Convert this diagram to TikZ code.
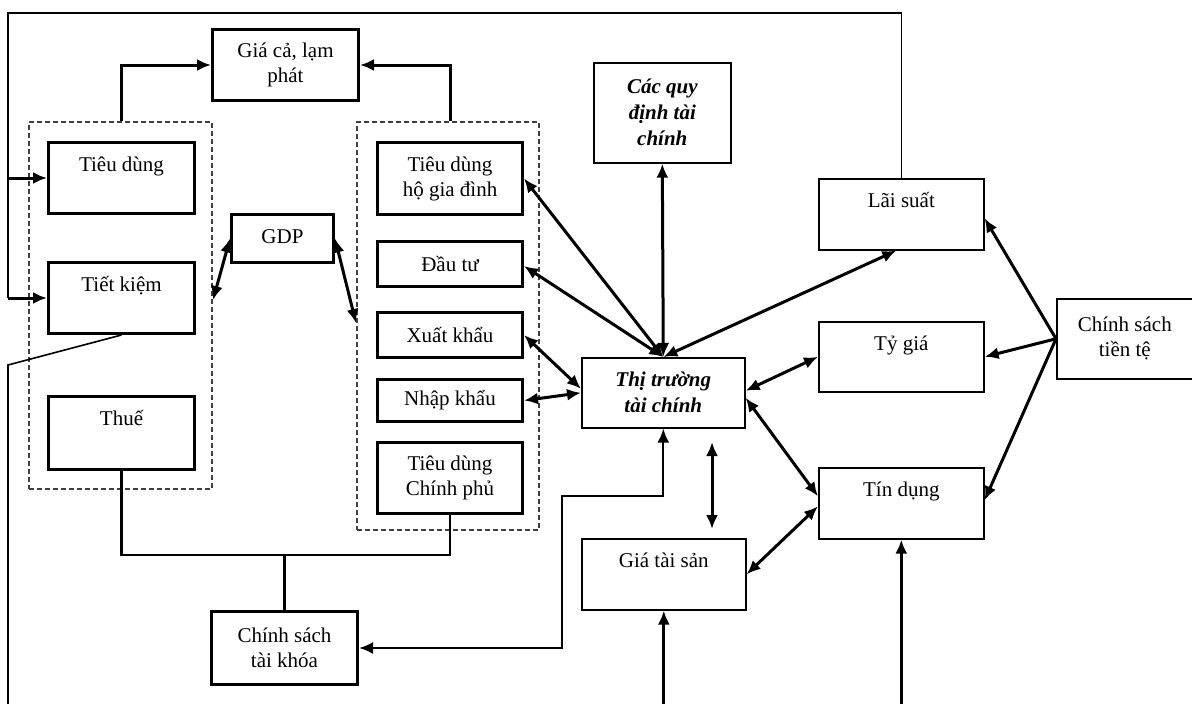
\documentclass[tikz,border=0pt]{standalone}
\usepackage{fontspec}
\setmainfont{Liberation Serif}
\usetikzlibrary{arrows.meta,calc}
\tikzset{
  every node/.style={font=\fontsize{21}{25}\selectfont},
  thickbox/.style={draw, line width=3pt, inner sep=0pt, anchor=north west, align=center},
  thinbox/.style={draw, line width=1.6pt, inner sep=0pt, anchor=north west, align=center},
  toptxt/.style={text height=29pt, text depth=#1},
  dashbox/.style={draw=black!75, line width=2pt, dash pattern=on 5pt off 3pt, inner sep=0pt, anchor=north west},
  tip/.tip={Latex[length=14pt,width=12pt]},
  arr/.style={line width=3pt, -tip},
  darr/.style={line width=3pt, tip-tip},
  frameline/.style={line width=1.6pt},
  conn/.style={line width=2.6pt},
  bi/.style={font=\fontsize{21}{26}\selectfont\bfseries\itshape},
}
\begin{document}
\begin{tikzpicture}[x=1pt,y=-1pt]
\fill[white] (0,0) rectangle (1192,704);
\useasboundingbox (0,0) rectangle (1192,704);

% dashed groups
\node[dashbox, minimum width=183, minimum height=367] (ldash) at (28,121) {};
\node[dashbox, minimum width=182, minimum height=408] (rdash) at (356,121) {};

% left boxes
\node[thickbox, minimum width=146, minimum height=71] (gia) at (211,28) {Giá cả, lạm\\phát};
\node[thickbox, minimum width=146, minimum height=71, toptxt=42pt] (td) at (47,141) {Tiêu dùng};
\node[thickbox, minimum width=146, minimum height=71, toptxt=42pt] (tk) at (47,261) {Tiết kiệm};
\node[thickbox, minimum width=146, minimum height=73, toptxt=44pt] (thue) at (47,395) {Thuế};
\node[thickbox, minimum width=102, minimum height=48, toptxt=19pt] (gdp) at (230,213) {GDP};

\node[thickbox, minimum width=145, minimum height=72] (hgd) at (376,141) {Tiêu dùng\\hộ gia đình};
\node[thickbox, minimum width=145, minimum height=45] (dt) at (376,240) {Đầu tư};
\node[thickbox, minimum width=145, minimum height=45] (xk) at (376,311) {Xuất khẩu};
\node[thickbox, minimum width=145, minimum height=42] (nk) at (376,378) {Nhập khẩu};
\node[thickbox, minimum width=145, minimum height=71] (cp) at (376,441) {Tiêu dùng\\Chính phủ};
\node[thickbox, minimum width=146, minimum height=73] (csk) at (210,610) {Chính sách\\tài khóa};

% right boxes
\node[thinbox, bi, minimum width=137, minimum height=100] (qd) at (593,62) {Các quy\\định tài\\chính};
\node[thinbox, bi, minimum width=163, minimum height=70] (tt) at (581,357) {Thị trường\\tài chính};
\node[thinbox, minimum width=165, minimum height=71, toptxt=42pt] (ls) at (818,178) {Lãi suất};
\node[thinbox, minimum width=165, minimum height=70, toptxt=41pt] (tg) at (818,321) {Tỷ giá};
\node[thinbox, minimum width=165, minimum height=71, toptxt=42pt] (tdg) at (818,467) {Tín dụng};
\node[thinbox, minimum width=164, minimum height=71, toptxt=42pt] (gts) at (581,538) {Giá tài sản};
\node[thinbox, minimum width=136, minimum height=80] (cstt) at (1056,298) {Chính sách\\tiền tệ};

% coordinates
\coordinate (ltop) at (8,13);
\coordinate (lbot) at (8,704);
\coordinate (lbend) at (8,365);
\coordinate (va) at (712,442);
\coordinate (vb) at (712,529);
\coordinate (rt1) at (562,496);

% outer frame
\draw[frameline] (ltop |- tk.west) -- (ltop) -- (ltop -| ls.north) -- (ls.north);
\draw[frameline] (tk.south) -- (lbend) -- (lbot);
\draw[arr] (ltop |- td.west) -- (td.west);
\draw[arr] (ltop |- tk.west) -- (tk.west);

% to prices
\draw[arr] (ldash.north -| td.north) |- (gia.west);
\draw[arr] (rdash.north -| hgd.north) |- (gia.east);

% GDP
\draw[darr] (gdp.west) -- ($(ldash.north east)+(0,179)$);
\draw[darr] (gdp.east) -- ($(rdash.north west)+(0,202)$);

% fiscal policy
\draw[conn] (thue.south) -- (thue.south |- 0,555) -- (cp.south |- 0,555) -- (cp.south);
\draw[conn] (csk.north) -- (csk.north |- 0,555);
\draw[darr, line width=2.2pt] (csk.east) -| (rt1) -| (tt.south);

% hub
\draw[darr] (tt.north) -- (hgd.east);
\draw[darr] (tt.north) -- ($(dt.east)+(0,2)$);
\draw[darr] (tt.north) -- (qd.south);
\draw[darr] (tt.north) -- ($(ls.south)+(-5,0)$);

\draw[darr] (xk.east) -- ($(tt.west)+(0,-4)$);
\draw[darr] (nk.east) -- (tt.west);
\draw[darr] ($(tt.east)+(0,-2)$) -- (tg.west);
\draw[darr] ($(tt.east)+(0,5)$) -- ($(tdg.west)+(0,-7)$);
\draw[darr] (gts.east) -- ($(tdg.west)+(0,3)$);
\draw[darr] (va) -- (vb);

% monetary policy
\draw[arr] (cstt.west) -- ($(ls.east)+(0,4)$);
\draw[arr] (cstt.west) -- (tg.east);
\draw[arr] (cstt.west) -- ($(tdg.east)+(0,-3)$);

% bottom inputs
\draw[arr] (gts.south |- lbot) -- (gts.south);
\draw[arr] (tdg.south |- lbot) -- (tdg.south);
\end{tikzpicture}
\end{document}
